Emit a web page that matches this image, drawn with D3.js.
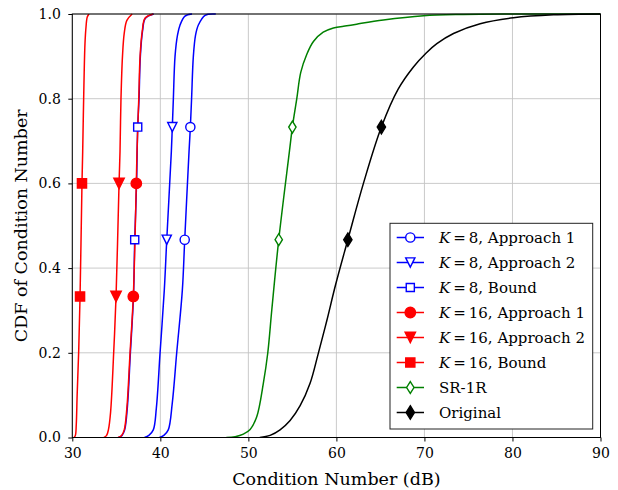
<!DOCTYPE html>
<html lang="en">
<head>
<meta charset="UTF-8">
<title>CDF of Condition Number</title>
<style>
  body { margin: 0; padding: 0; background: #fff; }
  text { font-family: "DejaVu Serif", serif; fill: #000; }
</style>
</head>
<body>
<svg width="618" height="490"></svg>
<script src="https://d3js.org/d3.v7.min.js"></script>
<script>
// axis ticks
const xTicks = [30, 40, 50, 60, 70, 80, 90];
const yTicks = [0, 0.2, 0.4, 0.6, 0.8, 1.0];

// CDF curves, [dB, probability]
const k8Approach1 = [[39.9,0],[40.4,0.005],[40.9,0.018],[41.35,0.08],[41.86,0.2],[42.5,0.348],[42.77,0.467],[43.26,0.675],[43.41,0.733],[43.55,0.8],[43.75,0.9],[44.0,0.95],[44.32,0.974],[45.08,0.997],[46.3,1]];
const k8Approach2 = [[38.2,0],[38.7,0.005],[39.2,0.018],[39.55,0.07],[39.97,0.2],[40.45,0.348],[40.73,0.467],[41.25,0.675],[41.36,0.733],[41.48,0.8],[41.67,0.9],[41.95,0.95],[42.24,0.974],[42.8,0.995],[43.6,1]];
const k8Bound     = [[35.25,0],[35.65,0.005],[35.95,0.018],[36.25,0.07],[36.6,0.2],[36.95,0.333],[37.09,0.467],[37.3,0.6],[37.43,0.733],[37.58,0.8],[37.73,0.9],[37.98,0.96],[38.3,0.99],[39.25,1]];
const k16Approach1 = [[35.2,0],[35.6,0.005],[35.9,0.018],[36.2,0.07],[36.56,0.2],[36.93,0.333],[37.27,0.6],[37.35,0.675],[37.55,0.8],[37.7,0.9],[37.95,0.96],[38.26,0.99],[39.2,1]];
const k16Approach2 = [[33.6,0],[33.9,0.005],[34.1,0.018],[34.35,0.06],[34.7,0.2],[34.97,0.333],[35.31,0.6],[35.42,0.675],[35.53,0.8],[35.7,0.9],[35.9,0.955],[36.2,0.985],[36.8,1]];
const k16Bound     = [[30.2,0],[30.35,0.005],[30.45,0.03],[30.55,0.1],[30.72,0.2],[30.88,0.333],[31.1,0.6],[31.18,0.675],[31.29,0.8],[31.44,0.93],[31.56,0.97],[31.7,0.993],[31.9,1]];
const sr1r = [[47.5,0],[48.5,0.002],[49.43,0.008],[50.2,0.019],[50.95,0.049],[51.7,0.128],[52.2,0.199],[52.66,0.301],[53.45,0.467],[54.66,0.675],[55.0,0.733],[55.5,0.8],[55.95,0.862],[56.64,0.905],[57.39,0.935],[58.5,0.957],[59.66,0.967],[61.18,0.972],[62.3,0.976],[65.34,0.986],[69.9,0.996],[74.4,0.999],[79.7,1],[90,1]];
const original = [[51.3,0],[52.47,0.005],[53.6,0.018],[54.74,0.04],[55.88,0.075],[57.01,0.128],[57.9,0.195],[58.9,0.275],[59.9,0.36],[61.3,0.467],[63.07,0.6],[65.11,0.733],[67.0,0.822],[68.75,0.875],[70.2,0.908],[71.41,0.93],[73.3,0.954],[76.33,0.977],[80.11,0.991],[84.66,0.998],[90,1]];

// marker positions on each curve
const k8Approach1Marks = [[42.77,0.467],[43.41,0.733]];
const k8Approach2Marks = [[40.73,0.467],[41.36,0.733]];
const k8BoundMarks = [[37.09,0.467],[37.43,0.733]];
const k16Approach1Marks = [[36.93,0.333],[37.27,0.6]];
const k16Approach2Marks = [[34.97,0.333],[35.31,0.6]];
const k16BoundMarks = [[30.88,0.333],[31.1,0.6]];
const sr1rMarks = [[53.45,0.467],[55.0,0.733]];
const originalMarks = [[61.3,0.467],[65.11,0.733]];

const series = [
  {k: "8", label: ", Approach 1", color: "#0000ff", data: k8Approach1, marks: k8Approach1Marks, shape: "circle", filled: false},
  {k: "8", label: ", Approach 2", color: "#0000ff", data: k8Approach2, marks: k8Approach2Marks, shape: "tri", filled: false},
  {k: "8", label: ", Bound", color: "#0000ff", data: k8Bound, marks: k8BoundMarks, shape: "square", filled: false},
  {k: "16", label: ", Approach 1", color: "#ff0000", data: k16Approach1, marks: k16Approach1Marks, shape: "circle", filled: true},
  {k: "16", label: ", Approach 2", color: "#ff0000", data: k16Approach2, marks: k16Approach2Marks, shape: "tri", filled: true},
  {k: "16", label: ", Bound", color: "#ff0000", data: k16Bound, marks: k16BoundMarks, shape: "square", filled: true},
  {k: null, label: "SR-1R", color: "#008000", data: sr1r, marks: sr1rMarks, shape: "diamond", filled: false},
  {k: null, label: "Original", color: "#000000", data: original, marks: originalMarks, shape: "diamond", filled: true}
];

const margin = {top: 14, right: 17.5, bottom: 52.5, left: 72.3};
const width = 618, height = 490;
const svg = d3.select("svg");

const x = d3.scaleLinear().domain([30, 90]).range([margin.left, width - margin.right]);
const y = d3.scaleLinear().domain([0, 1]).range([height - margin.bottom, margin.top]);

svg.append("clipPath").attr("id", "clip")
  .append("rect")
  .attr("x", x(30)).attr("y", y(1) - 1)
  .attr("width", x(90) - x(30)).attr("height", y(0) - y(1) + 1);

// grid
const grid = svg.append("g").attr("stroke", "#c4c4c4").attr("stroke-width", 0.9);
grid.selectAll("line.v").data(xTicks).join("line")
  .attr("x1", d => x(d)).attr("x2", d => x(d))
  .attr("y1", y(0)).attr("y2", y(1));
grid.selectAll("line.h").data(yTicks).join("line")
  .attr("x1", x(30)).attr("x2", x(90))
  .attr("y1", d => y(d)).attr("y2", d => y(d));

// marker shapes
function markerPath(shape, s) {
  if (shape === "circle") return d3.symbol(d3.symbolCircle, Math.PI * s * s)();
  if (shape === "tri") return `M0,${s}L${-s},${-s}L${s},${-s}Z`;
  if (shape === "square") return `M${-s*0.88},${-s*0.88}H${s*0.88}V${s*0.88}H${-s*0.88}Z`;
  if (shape === "diamond") return `M0,${-s*1.3}L${s*0.8},0L0,${s*1.3}L${-s*0.8},0Z`;
}

const line = d3.line()
  .x(d => x(d[0])).y(d => y(d[1]))
  .curve(d3.curveCatmullRom.alpha(0.5));

const plot = svg.append("g").attr("clip-path", "url(#clip)");
series.forEach(s => {
  plot.append("path")
    .attr("d", line(s.data))
    .attr("fill", "none")
    .attr("stroke", s.color)
    .attr("stroke-width", 1.5);
});
const markG = svg.append("g");
series.forEach(s => {
  markG.selectAll(null).data(s.marks).join("path")
    .attr("transform", d => `translate(${x(d[0])},${y(d[1])})`)
    .attr("d", markerPath(s.shape, s.filled ? 5.2 : 4.6))
    .attr("fill", s.filled ? s.color : "#fff")
    .attr("stroke", s.color)
    .attr("stroke-width", 1.4);
});

// axes
const xAxis = svg.append("g")
  .attr("transform", `translate(0,${y(0)})`)
  .call(d3.axisBottom(x).tickValues(xTicks).tickSize(4).tickPadding(7).tickFormat(d3.format("d")));
const yAxis = svg.append("g")
  .attr("transform", `translate(${x(30)},0)`)
  .call(d3.axisLeft(y).tickValues(yTicks).tickSize(4).tickPadding(7.5).tickFormat(d3.format(".1f")));
[xAxis, yAxis].forEach(a => {
  a.select(".domain").remove();
  a.selectAll("text").style("font-family", "'DejaVu Serif', serif").style("font-size", "14px");
  a.selectAll("line").attr("stroke", "#000");
});

// frame
svg.append("rect")
  .attr("x", x(30)).attr("y", y(1))
  .attr("width", x(90) - x(30)).attr("height", y(0) - y(1))
  .attr("fill", "none").attr("stroke", "#000").attr("stroke-width", 1);

// axis titles
svg.append("text")
  .attr("x", (x(30) + x(90)) / 2).attr("y", 485)
  .attr("text-anchor", "middle").style("font-size", "17.5px")
  .text("Condition Number (dB)");
svg.append("text")
  .attr("transform", `translate(27,${(y(0) + y(1)) / 2}) rotate(-90)`)
  .attr("text-anchor", "middle").style("font-size", "17.5px")
  .text("CDF of Condition Number");

// legend
const lg = svg.append("g");
lg.append("rect")
  .attr("x", 390).attr("y", 223.3).attr("width", 202.7).attr("height", 205.7)
  .attr("fill", "#fff").attr("stroke", "#222").attr("stroke-width", 1);
series.forEach((s, i) => {
  const cy = 237.5 + i * 25;
  lg.append("line")
    .attr("x1", 396.7).attr("x2", 424).attr("y1", cy).attr("y2", cy)
    .attr("stroke", s.color).attr("stroke-width", 1.5);
  lg.append("path")
    .attr("transform", `translate(410.3,${cy})`)
    .attr("d", markerPath(s.shape, s.filled ? 5.2 : 4.6))
    .attr("fill", s.filled ? s.color : "#fff")
    .attr("stroke", s.color).attr("stroke-width", 1.4);
  const t = lg.append("text")
    .attr("x", 439).attr("y", cy).attr("dy", "0.35em")
    .style("font-size", "15px");
  if (s.k) {
    t.append("tspan").style("font-style", "italic").text("K");
    t.append("tspan").text("\u2009=\u2009" + s.k + s.label);
  } else {
    t.text(s.label);
  }
});
</script>
</body>
</html>
